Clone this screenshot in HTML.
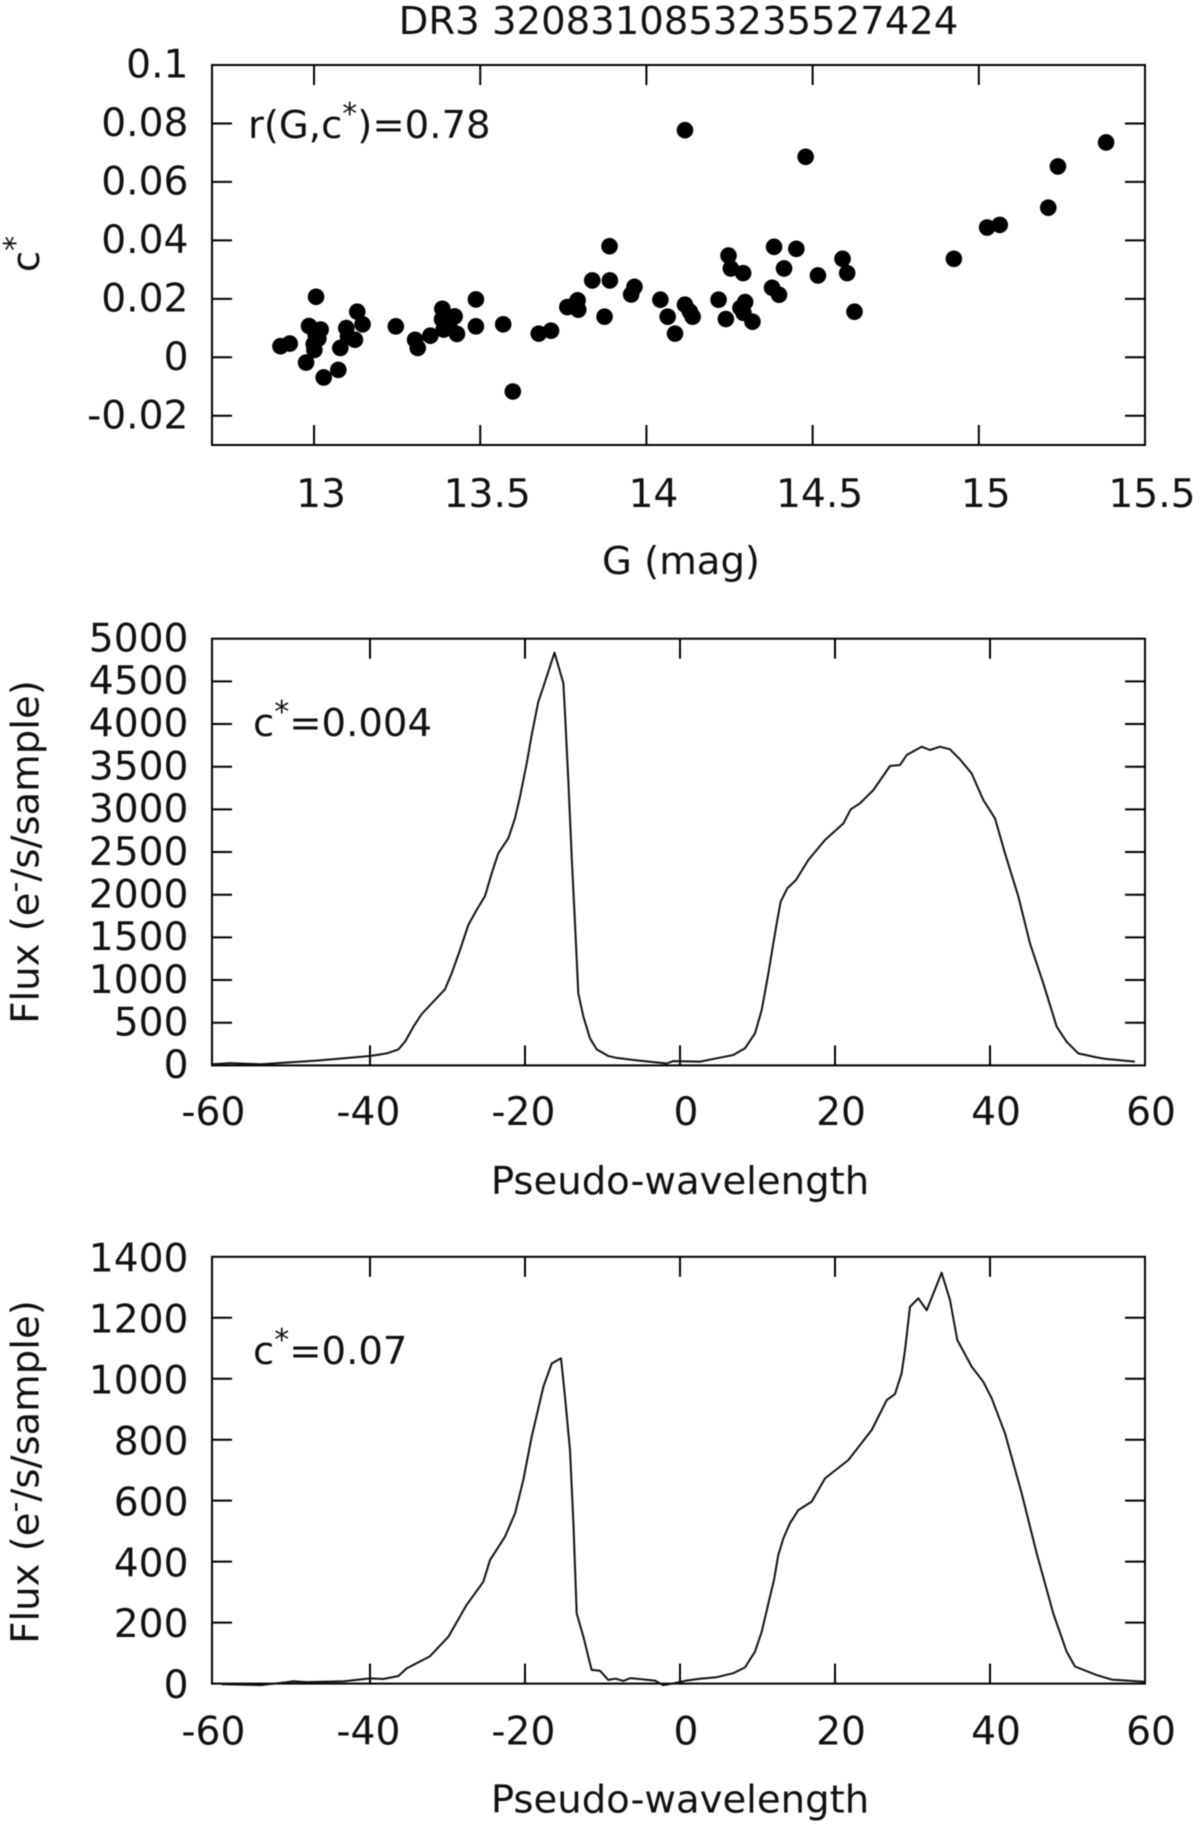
<!DOCTYPE html>
<html lang="en">
<head>
<meta charset="utf-8">
<title>DR3 3208310853235527424</title>
<style>
  html, body { margin: 0; padding: 0; background: #fff; }
  svg { display: block; filter: blur(0.55px); }
  text { font-family: "DejaVu Sans", "Liberation Sans", sans-serif; font-size: 38.6px; fill: #111; }
</style>
</head>
<body>
<svg id="figure" xmlns="http://www.w3.org/2000/svg" width="1200" height="1827" viewBox="0 0 1200 1827">
  <rect x="0" y="0" width="1200" height="1827" fill="#fff"/>
  <text x="678.5" y="34" text-anchor="middle">DR3 3208310853235527424</text>

  <text x="248" y="138">r(G,c<tspan font-size="30" dy="-14">*</tspan><tspan dy="14">)=0.78</tspan></text>
  <text x="681" y="574" text-anchor="middle">G (mag)</text>
  <text transform="translate(39 254) rotate(-90)" text-anchor="middle">c<tspan font-size="30" dy="-14">*</tspan></text>

  <text x="253" y="736">c<tspan font-size="30" dy="-14">*</tspan><tspan dy="14">=0.004</tspan></text>
  <text x="680" y="1194" text-anchor="middle">Pseudo-wavelength</text>
  <text transform="translate(38.5 852) rotate(-90)" text-anchor="middle">Flux (e<tspan font-size="30" dy="-14">-</tspan><tspan dy="14">/s/sample)</tspan></text>

  <text x="253" y="1364">c<tspan font-size="30" dy="-14">*</tspan><tspan dy="14">=0.07</tspan></text>
  <text x="680" y="1812.5" text-anchor="middle">Pseudo-wavelength</text>
  <text transform="translate(38.5 1472) rotate(-90)" text-anchor="middle">Flux (e<tspan font-size="30" dy="-14">-</tspan><tspan dy="14">/s/sample)</tspan></text>
</svg>
<script>
// ---- scatter panel data ----
const scatterG = [12.899,12.927,13.006,12.985,13.02,13.005,13.013,12.999,13.001,12.976,13.029,13.073,13.079,13.097,13.102,13.123,13.13,13.146,13.246,13.304,13.312,13.35,13.386,13.423,13.385,13.39,13.43,13.407,13.487,13.487,13.569,13.598,13.676,13.713,13.762,13.793,13.795,13.78,13.837,13.874,13.889,13.89,13.964,13.954,14.042,14.064,14.086,14.116,14.116,14.131,14.139,14.217,14.239,14.247,14.254,14.291,14.297,14.283,14.292,14.319,14.378,14.399,14.384,14.414,14.451,14.479,14.516,14.59,14.604,14.626,14.925,15.025,15.063,15.209,15.238,15.383];
const scatterC = [0.0038,0.0047,0.0207,0.0107,0.0095,0.0077,0.0064,0.0045,0.0025,-0.0018,-0.0069,-0.0043,0.0032,0.01,0.0071,0.006,0.0156,0.0113,0.0106,0.006,0.0032,0.0074,0.0166,0.014,0.013,0.0095,0.008,0.0104,0.0198,0.0106,0.0113,-0.0117,0.0081,0.0091,0.0172,0.0195,0.0163,0.0176,0.0263,0.0139,0.038,0.0263,0.0241,0.0215,0.0197,0.0139,0.0081,0.0777,0.018,0.0156,0.0139,0.0197,0.0131,0.0348,0.0304,0.0288,0.0189,0.0169,0.0152,0.0122,0.0238,0.0214,0.0378,0.0304,0.0371,0.0686,0.028,0.0337,0.0288,0.0156,0.0337,0.0444,0.0453,0.0512,0.0653,0.0735];
const scatterXTicks = [13,13.5,14,14.5,15,15.5];
const scatterYTicks = [-0.02,0,0.02,0.04,0.06,0.08,0.1];

// ---- spectrum c*=0.004 data ----
const lowWave = [-60.3,-58.1,-54.1,-46.7,-40,-37.85,-36.34,-35.48,-34.4,-33.33,-31.83,-30.32,-29.46,-28.39,-27.31,-26.24,-25.16,-24.3,-23.44,-22.15,-21.29,-20.65,-19.78,-19.14,-18.28,-17.63,-16.2,-15.05,-14.84,-14.41,-13.98,-13.55,-13.12,-12.47,-11.61,-10.75,-9.25,-8.3,-5.4,-1.7,-0.9,2.58,4.73,6.88,8.39,9.68,10.54,11.4,12.04,12.56,12.99,13.85,14.97,16.56,18.71,21.08,22.02,23.22,24.95,27.1,28.39,29.25,31.18,32.26,33.55,34.84,36.13,37.63,39.14,40.65,41.94,43.66,45.16,46.88,48.6,49.89,51.4,53.76,54.9,58.7];
const lowFlux = [13,27,13,58,110,141,188,278,454,602,747,892,1079,1352,1645,1821,1985,2251,2485,2661,2895,3149,3540,3872,4262,4438,4837,4477,4126,3344,2446,1665,845,571,317,188,110,90,58,22,50,44,83,122,200,376,649,1079,1430,1704,1919,2075,2172,2407,2641,2836,3001,3071,3227,3508,3520,3637,3735,3696,3735,3704,3586,3422,3110,2895,2485,1977,1430,962,454,278,141,94,76,45];
const lowYTicks = [0,500,1000,1500,2000,2500,3000,3500,4000,4500,5000];

// ---- spectrum c*=0.07 data ----
const highWave = [-59.1,-54.1,-50.9,-49.9,-48.2,-43.3,-40,-38.28,-36.34,-35.27,-32.26,-29.89,-27.53,-25.38,-24.52,-22.58,-21.29,-20.22,-19.14,-17.63,-16.56,-15.35,-14.84,-14.19,-13.76,-13.33,-12.47,-11.4,-10.32,-9.25,-8.3,-7.3,-6.4,-3.2,-2.2,-1.4,0.8,2.58,4.73,6.88,8.39,9.68,10.54,11.4,12.13,12.69,13.33,14.19,15.27,16.99,18.71,21.72,24.73,26.67,27.74,28.6,29.03,29.68,30.75,31.83,33.76,34.84,35.78,37.63,39.14,40.22,41.94,44.09,46.02,48.17,49.89,50.97,53.76,55.7,60];
const highFlux = [-2,-5,4,8,5,8,17,15,25,50,90,154,258,334,405,482,558,668,810,974,1050,1067,941,766,526,230,154,45,42,12,16,9,18,10,-5,-2,10,16,21,34,53,105,170,263,340,422,476,526,569,597,673,733,832,930,950,1018,1094,1236,1264,1225,1348,1258,1127,1040,990,936,821,624,427,230,105,56,28,13,6];
const highYTicks = [0,200,400,600,800,1000,1200,1400];

// ---- shared spectrum x ticks ----
const waveTicks = [-60,-40,-20,0,20,40,60];

const svgNS = 'http://www.w3.org/2000/svg';
const figure = document.getElementById('figure');
const plotLeft = 212;
const plotRight = 1145;
const tickLength = 20;
const tickFontSize = 39.2;

function make(tag, attrs) {
  const node = document.createElementNS(svgNS, tag);
  for (const key in attrs) node.setAttribute(key, attrs[key]);
  figure.appendChild(node);
  return node;
}

function linearScale(d0, d1, r0, r1) {
  return function (v) { return r0 + (v - d0) * (r1 - r0) / (d1 - d0); };
}

function drawAxes(prefix, xScale, yScale, top, bottom, xTicks, yTicks, labelBaseline, xLabelShift, yLabelDrop) {
  xTicks.forEach(function (v) {
    const px = xScale(v);
    if (px > plotLeft + 4 && px < plotRight - 4) {
      [[bottom, bottom - tickLength], [top, top + tickLength]].forEach(function (pair) {
        const tick = make('line', { x1: px, x2: px, y1: pair[0], y2: pair[1], stroke: '#000', 'stroke-width': 2 });
        
        
      });
    }
    const label = make('text', { x: px + xLabelShift(v), y: labelBaseline, 'text-anchor': 'middle', style: 'font-size:' + tickFontSize + 'px' });
    label.textContent = String(v);
    
    
  });
  yTicks.forEach(function (v) {
    const py = yScale(v);
    if (py > top + 2 && py < bottom - 2) {
      [[plotLeft, plotLeft + tickLength], [plotRight, plotRight - tickLength]].forEach(function (pair) {
        const tick = make('line', { x1: pair[0], x2: pair[1], y1: py, y2: py, stroke: '#000', 'stroke-width': 2 });
        
        
      });
    }
    const label = make('text', { x: 188.5, y: py + yLabelDrop, 'text-anchor': 'end', style: 'font-size:' + tickFontSize + 'px' });
    label.textContent = String(v);
    
    
  });
  const frame = make('rect', { x: plotLeft, y: top, width: plotRight - plotLeft, height: bottom - top, fill: 'none', stroke: '#000', 'stroke-width': 2 });
  
  
}

function drawSpectrum(prefix, waves, fluxes, xScale, yScale) {
  const points = waves.map(function (w, i) { return xScale(w).toFixed(1) + ',' + yScale(fluxes[i]).toFixed(1); });
  const line = make('polyline', { points: points.join(' '), fill: 'none', stroke: '#111', 'stroke-width': 2, 'stroke-linejoin': 'round' });
  
  
}

// scatter panel
const scatterX = linearScale(12.693, 15.5, plotLeft, plotRight);
const scatterY = linearScale(-0.03, 0.1, 445, 65);
drawAxes('scatter', scatterX, scatterY, 65, 445, scatterXTicks, scatterYTicks, 507, function () { return 7; }, 12.7);
scatterG.forEach(function (g, i) {
  const dot = make('circle', { cx: scatterX(g), cy: scatterY(scatterC[i]), r: 8.3, fill: '#000' });
  
  
});

// low c* spectrum
const waveShift = function (v) { return v < 0 ? -1.6 : 6; };
const lowX = linearScale(-60, 60, 215, 1145);
const lowY = linearScale(0, 5000, 1065.4, 638.7);
drawAxes('spectrum-low', lowX, lowY, 638.7, 1065.4, waveTicks, lowYTicks, 1125, waveShift, 12.7);
drawSpectrum('spectrum-low', lowWave, lowFlux, lowX, lowY);

// high c* spectrum
const highX = linearScale(-60, 60, 215, 1145);
const highY = linearScale(0, 1400, 1683.6, 1256.8);
drawAxes('spectrum-high', highX, highY, 1256.8, 1683.6, waveTicks, highYTicks, 1744.4, waveShift, 14.6);
drawSpectrum('spectrum-high', highWave, highFlux, highX, highY);
</script>
</body>
</html>
